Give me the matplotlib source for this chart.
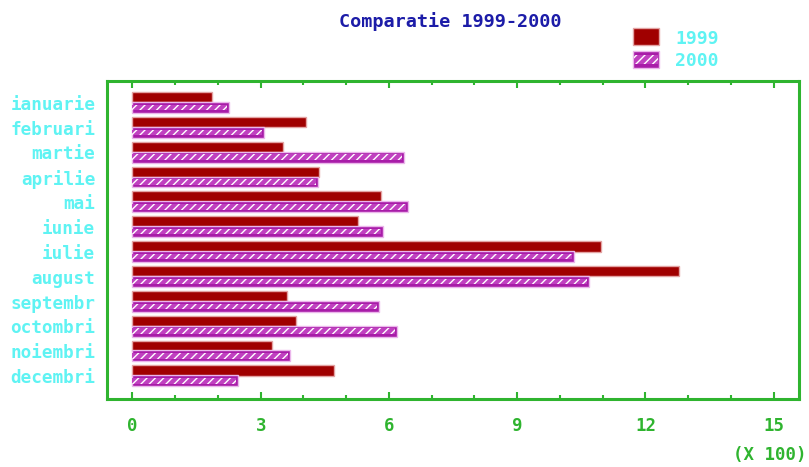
import matplotlib
matplotlib.use("Agg")
import matplotlib.pyplot as plt
import numpy as np
from matplotlib.patches import Rectangle
from matplotlib.ticker import FixedLocator, MultipleLocator

# Monthly figures (units), compared year over year
months = ["ianuarie", "februari", "martie", "aprilie", "mai", "iunie",
          "iulie", "august", "septembr", "octombri", "noiembri", "decembri"]
series_names = ["1999", "2000"]
sales_1999 = [186, 406, 352, 436, 581, 528, 1096, 1279, 361, 382, 327, 471]
sales_2000 = [225, 307, 635, 434, 644, 587, 1033, 1069, 577, 618, 368, 248]
x_ticks = [0, 3, 6, 9, 12, 15]
scale = 100

RED = "#a00000"
RED_EDGE = "#e3a3a3"
MAGENTA = "#a81ca8"
MAGENTA_EDGE = "#ebb6eb"
GREEN = "#2fb42f"
CYAN = "#5ff3f3"
NAVY = "#1c1ca8"
MONO = "DejaVu Sans Mono"

fig = plt.figure(figsize=(8.09, 4.67), dpi=100)
ax = fig.add_axes([0.1326, 0.1463, 0.8554, 0.6803])

y = np.arange(len(months))
v99 = np.array(sales_1999) / scale
v00 = np.array(sales_2000) / scale

ax.barh(y - 0.22, v99, height=0.42, color=RED, edgecolor=RED_EDGE,
        linewidth=1.0, zorder=2)
# 2000 bars: magenta body with a lighter hatched middle band
ax.barh(y + 0.19, v00, height=0.44, color=MAGENTA, edgecolor=MAGENTA_EDGE,
        linewidth=1.0, zorder=3)
ax.barh(y + 0.19, v00 - 0.05, height=0.22, color="#c040c0", edgecolor="white",
        hatch="////", linewidth=0, zorder=4)

ax.set_xlim(-0.59, 15.6)
ax.set_ylim(11.91, -0.875)

ax.xaxis.set_major_locator(FixedLocator(x_ticks))
ax.xaxis.set_minor_locator(MultipleLocator(1))
ax.set_xticklabels([str(t) for t in x_ticks], family=MONO, fontsize=12.5,
                   fontweight="bold", color=GREEN)
ax.tick_params(axis="x", which="major", direction="in", length=5, width=1.5,
               color=GREEN, top=True, bottom=True, pad=13.5)
ax.tick_params(axis="x", which="minor", direction="in", length=3, width=1.5,
               color=GREEN, top=True, bottom=True)

ax.set_yticks(y)
ax.set_yticklabels(months, family=MONO, fontsize=12.7, fontweight="bold",
                   color=CYAN)
ax.tick_params(axis="y", length=0, pad=8.6)

for side in ["left", "right", "top", "bottom"]:
    ax.spines[side].set_color(GREEN)
    ax.spines[side].set_linewidth(2.2)

fig.text(0.557, 0.953, "Comparatie 1999-2000", family=MONO, fontsize=13.3,
         fontweight="bold", color=NAVY, ha="center", va="center")
fig.text(0.997, 0.026, "(X 100)", family=MONO, fontsize=12.5,
         fontweight="bold", color=GREEN, ha="right", va="center")

# Legend drawn as figure patches
W, H = 809.0, 467.0
def fig_rect(x0, y0, x1, y1, **kw):
    r = Rectangle((x0 / W, 1 - y1 / H), (x1 - x0) / W, (y1 - y0) / H,
                  transform=fig.transFigure, **kw)
    fig.patches.append(r)

fig_rect(633, 28, 659, 45, facecolor=RED, edgecolor=RED_EDGE, linewidth=1.0)
fig_rect(633, 51, 659, 68, facecolor=MAGENTA, edgecolor=MAGENTA_EDGE, linewidth=1.0)
fig_rect(634, 55, 658, 64, facecolor="#c040c0", edgecolor="white", hatch="////",
         linewidth=0)
fig.text(675 / W, 1 - 39 / H, series_names[0], family=MONO, fontsize=13,
         fontweight="bold", color=CYAN, ha="left", va="center")
fig.text(675 / W, 1 - 61 / H, series_names[1], family=MONO, fontsize=13,
         fontweight="bold", color=CYAN, ha="left", va="center")

fig.savefig("out.png", dpi=100)
